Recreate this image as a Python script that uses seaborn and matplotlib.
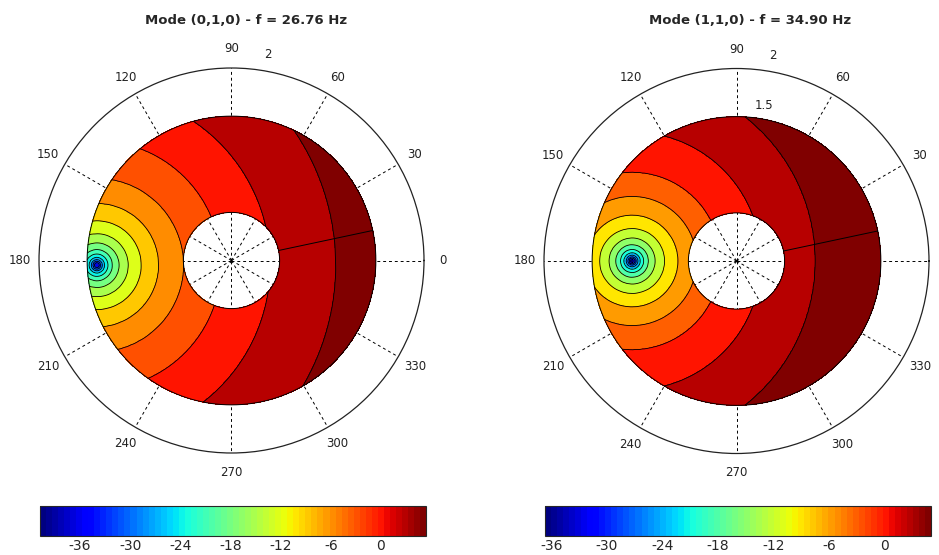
import numpy as np
import matplotlib
matplotlib.use("Agg")
import matplotlib.pyplot as plt
from matplotlib.colors import Normalize
from matplotlib.cm import ScalarMappable
import seaborn as sns

sns.set_style("white")
plt.rcParams['font.family'] = ['DejaVu Sans']
plt.rcParams['axes.unicode_minus'] = False

# two modes side by side
titles = ['Mode (0,1,0) - f = 26.76 Hz', 'Mode (1,1,0) - f = 34.90 Hz']

# position of the pressure null (radius, angle in deg)
null_r = [1.40, 1.085]
null_deg = [182.0, 180.0]

# contour levels (dB) and how far each ring sits from the null
levels = [-36, -33, -30, -27, -24, -21, -18, -15, -12, -9, -6, -3, 0, 3]
ring_dist = [
    [0.028, 0.040, 0.057, 0.080, 0.115, 0.160, 0.230, 0.325, 0.460, 0.640, 0.900, 1.290, 1.800, 2.480],
    [0.021, 0.030, 0.042, 0.060, 0.084, 0.119, 0.168, 0.238, 0.336, 0.475, 0.670, 0.920, 1.340, 1.900],
]
# level at the null itself and at the far edge of the disc
floor_db = [-40.8, -36.7]
edge_dist = [3.0, 2.7]
edge_db = [4.4, 5.0]

# colorbar ranges
cbar_lims = [(-40.8, 5.4), (-36.7, 5.0)]
cbar_ticks = [-36, -30, -24, -18, -12, -6, 0]

# annulus and polar grid
r_in, r_out, r_max = 0.5, 1.5, 2.0
seam_deg = 12
angle_ticks = list(range(0, 360, 30))
# the right plot's "0" falls outside the figure in the original
angle_shown = [angle_ticks, angle_ticks[1:]]
r_labels = [['2'], ['1.5', '2']]
r_label_pos = [[2.17], [1.64, 2.17]]

# matlab-like jet with 64 steps
jet = plt.get_cmap('jet', 64)

fig = plt.figure(figsize=(9.39, 5.55), dpi=100)
W, H = 939, 555
centers = [(231.5, 260.5), (736.5, 261)]
title_x = [246, 750]
rad_px = 192.5
cbar_x = [40, 545]

th_deg = np.arange(seam_deg, seam_deg + 361, 1.0)
rr = np.linspace(r_in, r_out, 51)
TH, R = np.meshgrid(np.deg2rad(th_deg), rr)
X, Y = R * np.cos(TH), R * np.sin(TH)

for i in range(2):
    cx, cy = centers[i]
    ax = fig.add_axes([(cx - rad_px) / W, (H - cy - rad_px) / H, 2 * rad_px / W, 2 * rad_px / H],
                      projection='polar')
    ax.set_axisbelow(True)

    x0 = null_r[i] * np.cos(np.deg2rad(null_deg[i]))
    y0 = null_r[i] * np.sin(np.deg2rad(null_deg[i]))
    D = np.hypot(X - x0, Y - y0)
    Z = np.interp(D, [0] + ring_dist[i] + [edge_dist[i]], [floor_db[i]] + levels + [edge_db[i]])

    norm = Normalize(*cbar_lims[i])
    fill_lv = [floor_db[i] - 1] + levels + [edge_db[i] + 1]
    band_cols = [jet(norm(v)) for v in fill_lv[1:]]
    ax.contourf(TH, R, Z, levels=fill_lv, colors=band_cols)
    ax.contour(TH, R, Z, levels=levels, colors='k', linewidths=0.6, negative_linestyles='solid')

    # patch edges of the annulus, incl. the seam of the grid
    ax.plot(np.deg2rad(th_deg), np.full(th_deg.size, r_in), color='k', lw=0.7)
    ax.plot(np.deg2rad(th_deg), np.full(th_deg.size, r_out), color='k', lw=0.7)
    ax.plot(np.deg2rad([seam_deg, seam_deg]), [r_in, r_out], color='k', lw=0.7)

    ax.set_ylim(0, r_max)
    ax.set_yticks([])
    ax.set_xticks(np.deg2rad(angle_ticks))
    ax.set_xticklabels([])
    ax.xaxis.grid(True, color='k', linestyle=(0, (3, 3)), linewidth=0.7)
    ax.spines['polar'].set_linewidth(0.9)
    ax.spines['polar'].set_color('#222222')

    for a in angle_shown[i]:
        ax.text(np.deg2rad(a), 2.2, str(a), ha='center', va='center', fontsize=8.5, color='#222222')
    for lab, rp in zip(r_labels[i], r_label_pos[i]):
        ax.text(np.deg2rad(80), rp, lab, ha='center', va='center', fontsize=8.5, color='#222222')

    fig.text(title_x[i] / W, 1 - 20 / H, titles[i], ha='center', va='center',
             fontsize=9.5, fontweight='bold')

    cax = fig.add_axes([cbar_x[i] / W, (H - 536) / H, 386 / W, 30 / H])
    cb = fig.colorbar(ScalarMappable(norm=norm, cmap=jet), cax=cax, orientation='horizontal',
                      ticks=cbar_ticks)
    cb.outline.set_linewidth(0.8)
    cax.tick_params(axis='x', direction='in', top=True, bottom=True, length=4, width=0.6,
                    labelsize=10, pad=2)

fig.savefig('out.png', dpi=100)
